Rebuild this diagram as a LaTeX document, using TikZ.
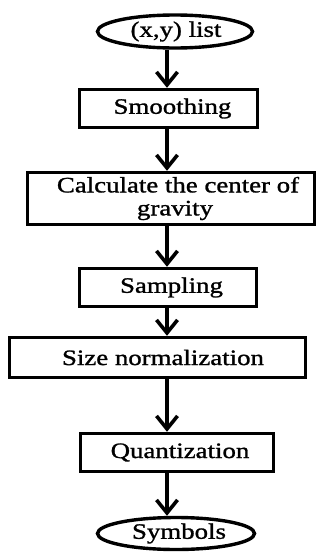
\documentclass[tikz,border=0pt]{standalone}
\usepackage{fontspec}
\setmainfont[FakeStretch=1.22,FakeBold=1.2]{Liberation Serif}
\usetikzlibrary{arrows.meta,shapes.geometric}
\newcommand{\shiftr}[1]{\hspace*{#1}}
\begin{document}
\begin{tikzpicture}[x=1pt,y=-1pt,
  every node/.style={font=\fontsize{22}{23}\selectfont, inner sep=0pt, align=center},
  boxnode/.style={draw, line width=3.4pt, rectangle},
  ovalnode/.style={draw, line width=3.4pt, ellipse},
  arr/.style={line width=3.6pt, -{Straight Barb[length=13pt,width=21pt,line width=3.6pt]}}]
\useasboundingbox (0,0) rectangle (320,552);
\node[ovalnode, minimum width=155pt, minimum height=33pt] (e1) at (175,31.5) {\shiftr{2pt}(x,y) list};
\node[boxnode, minimum width=178pt, minimum height=38pt] (smooth) at (168.5,108.5) {\shiftr{8pt}Smoothing};
\node[boxnode, minimum width=287pt, minimum height=52pt] (calc) at (171,198.5) {\shiftr{14pt}Calculate the center of\\\shiftr{8pt}gravity};
\node[boxnode, minimum width=177pt, minimum height=38pt] (samp) at (168,287.5) {\shiftr{7pt}Sampling};
\node[boxnode, minimum width=296pt, minimum height=40pt] (size) at (157.5,357.5) {\shiftr{11pt}Size normalization};
\node[boxnode, minimum width=193pt, minimum height=38pt] (quant) at (177,452.5) {\shiftr{6pt}Quantization};
\node[ovalnode, minimum width=157pt, minimum height=32pt] (e2) at (176,533.5) {\shiftr{6pt}Symbols};
\coordinate (col) at (167,0);
\draw[arr] (col |- e1.south) -- (col |- smooth.north);
\draw[arr] (col |- smooth.south) -- (col |- calc.north);
\draw[arr] (col |- calc.south) -- (col |- samp.north);
\draw[arr] (col |- samp.south) -- (col |- size.north);
\draw[arr] (col |- size.south) -- (col |- quant.north);
\draw[arr] (col |- quant.south) -- (col |- e2.north);
\end{tikzpicture}
\end{document}
